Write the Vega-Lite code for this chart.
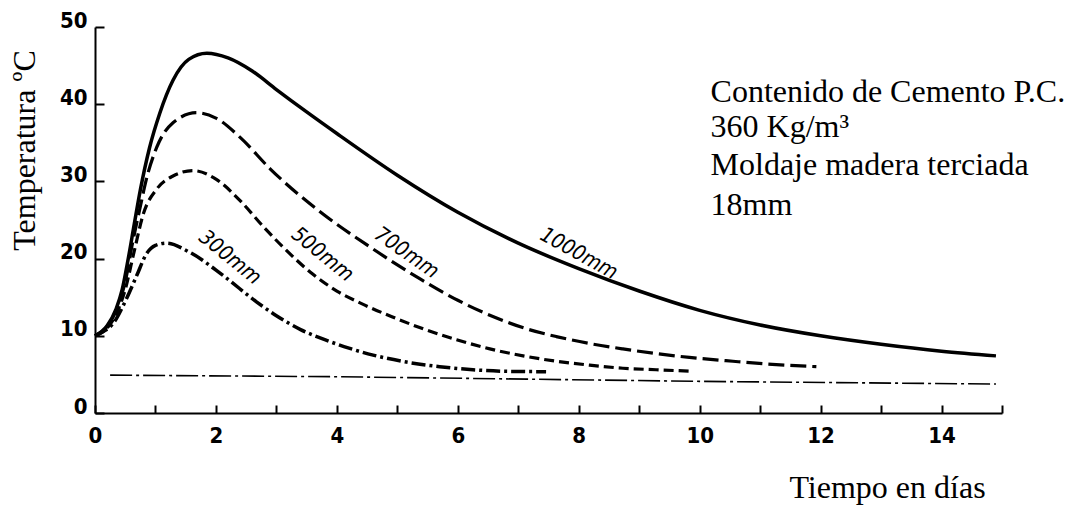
{
  "$schema": "https://vega.github.io/schema/vega-lite/v6.json",
  "width": 907,
  "height": 386,
  "autosize": "none",
  "padding": {"left": 95, "top": 27, "right": 70, "bottom": 93},
  "background": "white",
  "config": {"view": {"stroke": null}, "axis": {"grid": false}},
  "datasets": {
    "curves": [
      {"s": "1000", "t": 0, "temp": 10}, {"s": "1000", "t": 0.2, "temp": 11.3}, {"s": "1000", "t": 0.35, "temp": 13.5}, {"s": "1000", "t": 0.45, "temp": 16}, {"s": "1000", "t": 0.55, "temp": 20}, {"s": "1000", "t": 0.65, "temp": 24.5}, {"s": "1000", "t": 0.75, "temp": 28.9}, {"s": "1000", "t": 0.9, "temp": 34.3}, {"s": "1000", "t": 1.07, "temp": 38.8}, {"s": "1000", "t": 1.29, "temp": 43.1}, {"s": "1000", "t": 1.55, "temp": 45.8}, {"s": "1000", "t": 1.85, "temp": 46.6}, {"s": "1000", "t": 2.2, "temp": 46.0}, {"s": "1000", "t": 2.6, "temp": 44.3}, {"s": "1000", "t": 3.0, "temp": 41.9}, {"s": "1000", "t": 3.5, "temp": 39.0}, {"s": "1000", "t": 4, "temp": 36.2}, {"s": "1000", "t": 5, "temp": 30.8}, {"s": "1000", "t": 6, "temp": 26.0}, {"s": "1000", "t": 7, "temp": 22.0}, {"s": "1000", "t": 8, "temp": 18.7}, {"s": "1000", "t": 9, "temp": 15.8}, {"s": "1000", "t": 10, "temp": 13.3}, {"s": "1000", "t": 11, "temp": 11.4}, {"s": "1000", "t": 12, "temp": 10.0}, {"s": "1000", "t": 13, "temp": 8.9}, {"s": "1000", "t": 14, "temp": 8.0}, {"s": "1000", "t": 14.9, "temp": 7.4},
      {"s": "700", "t": 0, "temp": 10}, {"s": "700", "t": 0.2, "temp": 11.2}, {"s": "700", "t": 0.35, "temp": 13.3}, {"s": "700", "t": 0.5, "temp": 17}, {"s": "700", "t": 0.62, "temp": 22}, {"s": "700", "t": 0.74, "temp": 26.4}, {"s": "700", "t": 0.85, "temp": 30.3}, {"s": "700", "t": 1.02, "temp": 34.4}, {"s": "700", "t": 1.29, "temp": 37.6}, {"s": "700", "t": 1.68, "temp": 38.9}, {"s": "700", "t": 2.0, "temp": 38.2}, {"s": "700", "t": 2.4, "temp": 35.7}, {"s": "700", "t": 2.9, "temp": 31.6}, {"s": "700", "t": 3.7, "temp": 26.2}, {"s": "700", "t": 4.55, "temp": 21.5}, {"s": "700", "t": 5.37, "temp": 17.4}, {"s": "700", "t": 6.0, "temp": 14.6}, {"s": "700", "t": 6.58, "temp": 12.5}, {"s": "700", "t": 7.14, "temp": 10.9}, {"s": "700", "t": 7.63, "temp": 9.9}, {"s": "700", "t": 8.18, "temp": 9.0}, {"s": "700", "t": 8.73, "temp": 8.3}, {"s": "700", "t": 9.28, "temp": 7.7}, {"s": "700", "t": 9.83, "temp": 7.2}, {"s": "700", "t": 10.55, "temp": 6.7}, {"s": "700", "t": 11.2, "temp": 6.3}, {"s": "700", "t": 11.93, "temp": 6.0},
      {"s": "500", "t": 0, "temp": 10}, {"s": "500", "t": 0.2, "temp": 11}, {"s": "500", "t": 0.35, "temp": 12.8}, {"s": "500", "t": 0.5, "temp": 16}, {"s": "500", "t": 0.65, "temp": 21}, {"s": "500", "t": 0.8, "temp": 25.8}, {"s": "500", "t": 1.02, "temp": 29}, {"s": "500", "t": 1.29, "temp": 30.7}, {"s": "500", "t": 1.62, "temp": 31.4}, {"s": "500", "t": 2.0, "temp": 30.3}, {"s": "500", "t": 2.4, "temp": 27.5}, {"s": "500", "t": 2.8, "temp": 24.0}, {"s": "500", "t": 3.2, "temp": 20.8}, {"s": "500", "t": 3.6, "temp": 18.0}, {"s": "500", "t": 4.0, "temp": 15.8}, {"s": "500", "t": 4.4, "temp": 14.2}, {"s": "500", "t": 4.9, "temp": 12.5}, {"s": "500", "t": 5.43, "temp": 10.9}, {"s": "500", "t": 5.98, "temp": 9.5}, {"s": "500", "t": 6.53, "temp": 8.3}, {"s": "500", "t": 7.08, "temp": 7.4}, {"s": "500", "t": 7.63, "temp": 6.7}, {"s": "500", "t": 8.18, "temp": 6.2}, {"s": "500", "t": 8.73, "temp": 5.8}, {"s": "500", "t": 9.28, "temp": 5.6}, {"s": "500", "t": 9.9, "temp": 5.4},
      {"s": "300", "t": 0, "temp": 10}, {"s": "300", "t": 0.15, "temp": 10.6}, {"s": "300", "t": 0.3, "temp": 11.6}, {"s": "300", "t": 0.52, "temp": 14.8}, {"s": "300", "t": 0.69, "temp": 17.8}, {"s": "300", "t": 0.85, "temp": 20.6}, {"s": "300", "t": 1.0, "temp": 21.7}, {"s": "300", "t": 1.18, "temp": 22.0}, {"s": "300", "t": 1.57, "temp": 20.8}, {"s": "300", "t": 2.12, "temp": 17.8}, {"s": "300", "t": 2.67, "temp": 14.4}, {"s": "300", "t": 3.0, "temp": 12.6}, {"s": "300", "t": 3.4, "temp": 10.8}, {"s": "300", "t": 3.8, "temp": 9.5}, {"s": "300", "t": 4.2, "temp": 8.4}, {"s": "300", "t": 4.6, "temp": 7.5}, {"s": "300", "t": 5.15, "temp": 6.6}, {"s": "300", "t": 5.7, "temp": 6.0}, {"s": "300", "t": 6.25, "temp": 5.6}, {"s": "300", "t": 6.8, "temp": 5.4}, {"s": "300", "t": 7.46, "temp": 5.35},
      {"s": "amb", "t": 0.25, "temp": 4.9}, {"s": "amb", "t": 4, "temp": 4.7}, {"s": "amb", "t": 10, "temp": 4.1}, {"s": "amb", "t": 14.9, "temp": 3.75}
    ],
    "labels": [
      {"lbl": "300mm", "t": 2.23, "temp": 20.1},
      {"lbl": "500mm", "t": 3.76, "temp": 20.5},
      {"lbl": "700mm", "t": 5.15, "temp": 20.7},
      {"lbl": "1000mm", "t": 8.0, "temp": 20.6}
    ],
    "notes": [
      {"txt": "Contenido de Cemento P.C.", "t": 10.18, "temp": 40.3},
      {"txt": "360 Kg/m³", "t": 10.18, "temp": 35.8},
      {"txt": "Moldaje madera terciada", "t": 10.18, "temp": 30.8},
      {"txt": "18mm", "t": 10.18, "temp": 25.6}
    ]
  },
  "data": {"name": "curves"},
  "encoding": {
    "x": {
      "field": "t", "type": "quantitative",
      "scale": {"domain": [0, 15], "nice": false, "zero": false},
      "axis": {
        "title": "Tiempo en días",
        "values": [0, 1, 2, 3, 4, 5, 6, 7, 8, 9, 10, 11, 12, 13, 14, 15],
        "labelExpr": "datum.value % 2 == 0 && datum.value < 15 ? datum.label : ''",
        "tickSize": -8, "tickWidth": 2, "tickColor": "black",
        "domainColor": "black", "domainWidth": 2,
        "labelFont": "Liberation Sans Narrow, DejaVu Sans Condensed, sans-serif", "labelFontSize": 22, "labelFontWeight": "bold", "labelColor": "black",
        "labelPadding": 20, "labelFlush": false, "labelOverlap": false, "labelBound": false,
        "titleFont": "Liberation Serif", "titleFontSize": 32, "titleFontWeight": "normal", "titleColor": "black",
        "titleX": 792, "titleY": 84, "titleAlign": "center", "titleBaseline": "alphabetic"
      }
    },
    "y": {
      "field": "temp", "type": "quantitative",
      "scale": {"domain": [0, 50], "nice": false},
      "axis": {
        "title": "Temperatura ºC",
        "values": [0, 10, 20, 30, 40, 50],
        "tickSize": -9, "tickWidth": 2, "tickColor": "black",
        "domainColor": "black", "domainWidth": 2,
        "labelFont": "Liberation Sans Narrow, DejaVu Sans Condensed, sans-serif", "labelFontSize": 22, "labelFontWeight": "bold", "labelColor": "black",
        "labelBaseline": "alphabetic", "labelPadding": 17, "labelFlush": false, "labelOverlap": false,
        "titleFont": "Liberation Serif", "titleFontSize": 32, "titleFontWeight": "normal", "titleColor": "black",
        "titleX": -61, "titleY": 123, "titleAngle": -90, "titleAlign": "center", "titleBaseline": "alphabetic"
      }
    }
  },
  "layer": [
    {"transform": [{"filter": "datum.s == 'amb'"}], "mark": {"type": "line", "color": "black", "strokeWidth": 1.6, "strokeDash": [22, 4, 3, 4]}, "encoding": {}},
    {"transform": [{"filter": "datum.s == '1000'"}], "mark": {"type": "line", "interpolate": "monotone", "color": "black", "strokeWidth": 3.5}, "encoding": {}},
    {"transform": [{"filter": "datum.s == '700'"}], "mark": {"type": "line", "interpolate": "monotone", "color": "black", "strokeWidth": 3.2, "strokeDash": [16, 6]}, "encoding": {}},
    {"transform": [{"filter": "datum.s == '500'"}], "mark": {"type": "line", "interpolate": "monotone", "color": "black", "strokeWidth": 3.2, "strokeDash": [10, 5]}, "encoding": {}},
    {"transform": [{"filter": "datum.s == '300'"}], "mark": {"type": "line", "interpolate": "monotone", "color": "black", "strokeWidth": 3.5, "strokeDash": [14, 4, 3, 4]}, "encoding": {}},
    {"data": {"name": "labels"}, "transform": [{"filter": "datum.lbl == '300mm'"}], "mark": {"type": "text", "font": "Liberation Sans Narrow, DejaVu Sans Condensed, sans-serif", "fontSize": 21, "fontStyle": "italic", "align": "center", "baseline": "middle", "angle": 39, "color": "black"}, "encoding": {"text": {"field": "lbl"}}},
    {"data": {"name": "labels"}, "transform": [{"filter": "datum.lbl == '500mm'"}], "mark": {"type": "text", "font": "Liberation Sans Narrow, DejaVu Sans Condensed, sans-serif", "fontSize": 21, "fontStyle": "italic", "align": "center", "baseline": "middle", "angle": 39, "color": "black"}, "encoding": {"text": {"field": "lbl"}}},
    {"data": {"name": "labels"}, "transform": [{"filter": "datum.lbl == '700mm'"}], "mark": {"type": "text", "font": "Liberation Sans Narrow, DejaVu Sans Condensed, sans-serif", "fontSize": 21, "fontStyle": "italic", "align": "center", "baseline": "middle", "angle": 35, "color": "black"}, "encoding": {"text": {"field": "lbl"}}},
    {"data": {"name": "labels"}, "transform": [{"filter": "datum.lbl == '1000mm'"}], "mark": {"type": "text", "font": "Liberation Sans Narrow, DejaVu Sans Condensed, sans-serif", "fontSize": 21, "fontStyle": "italic", "align": "center", "baseline": "middle", "angle": 29, "color": "black"}, "encoding": {"text": {"field": "lbl"}}},
    {"data": {"name": "notes"}, "mark": {"type": "text", "font": "Liberation Serif", "fontSize": 32, "align": "left", "baseline": "alphabetic", "color": "black"}, "encoding": {"text": {"field": "txt"}}}
  ]
}
